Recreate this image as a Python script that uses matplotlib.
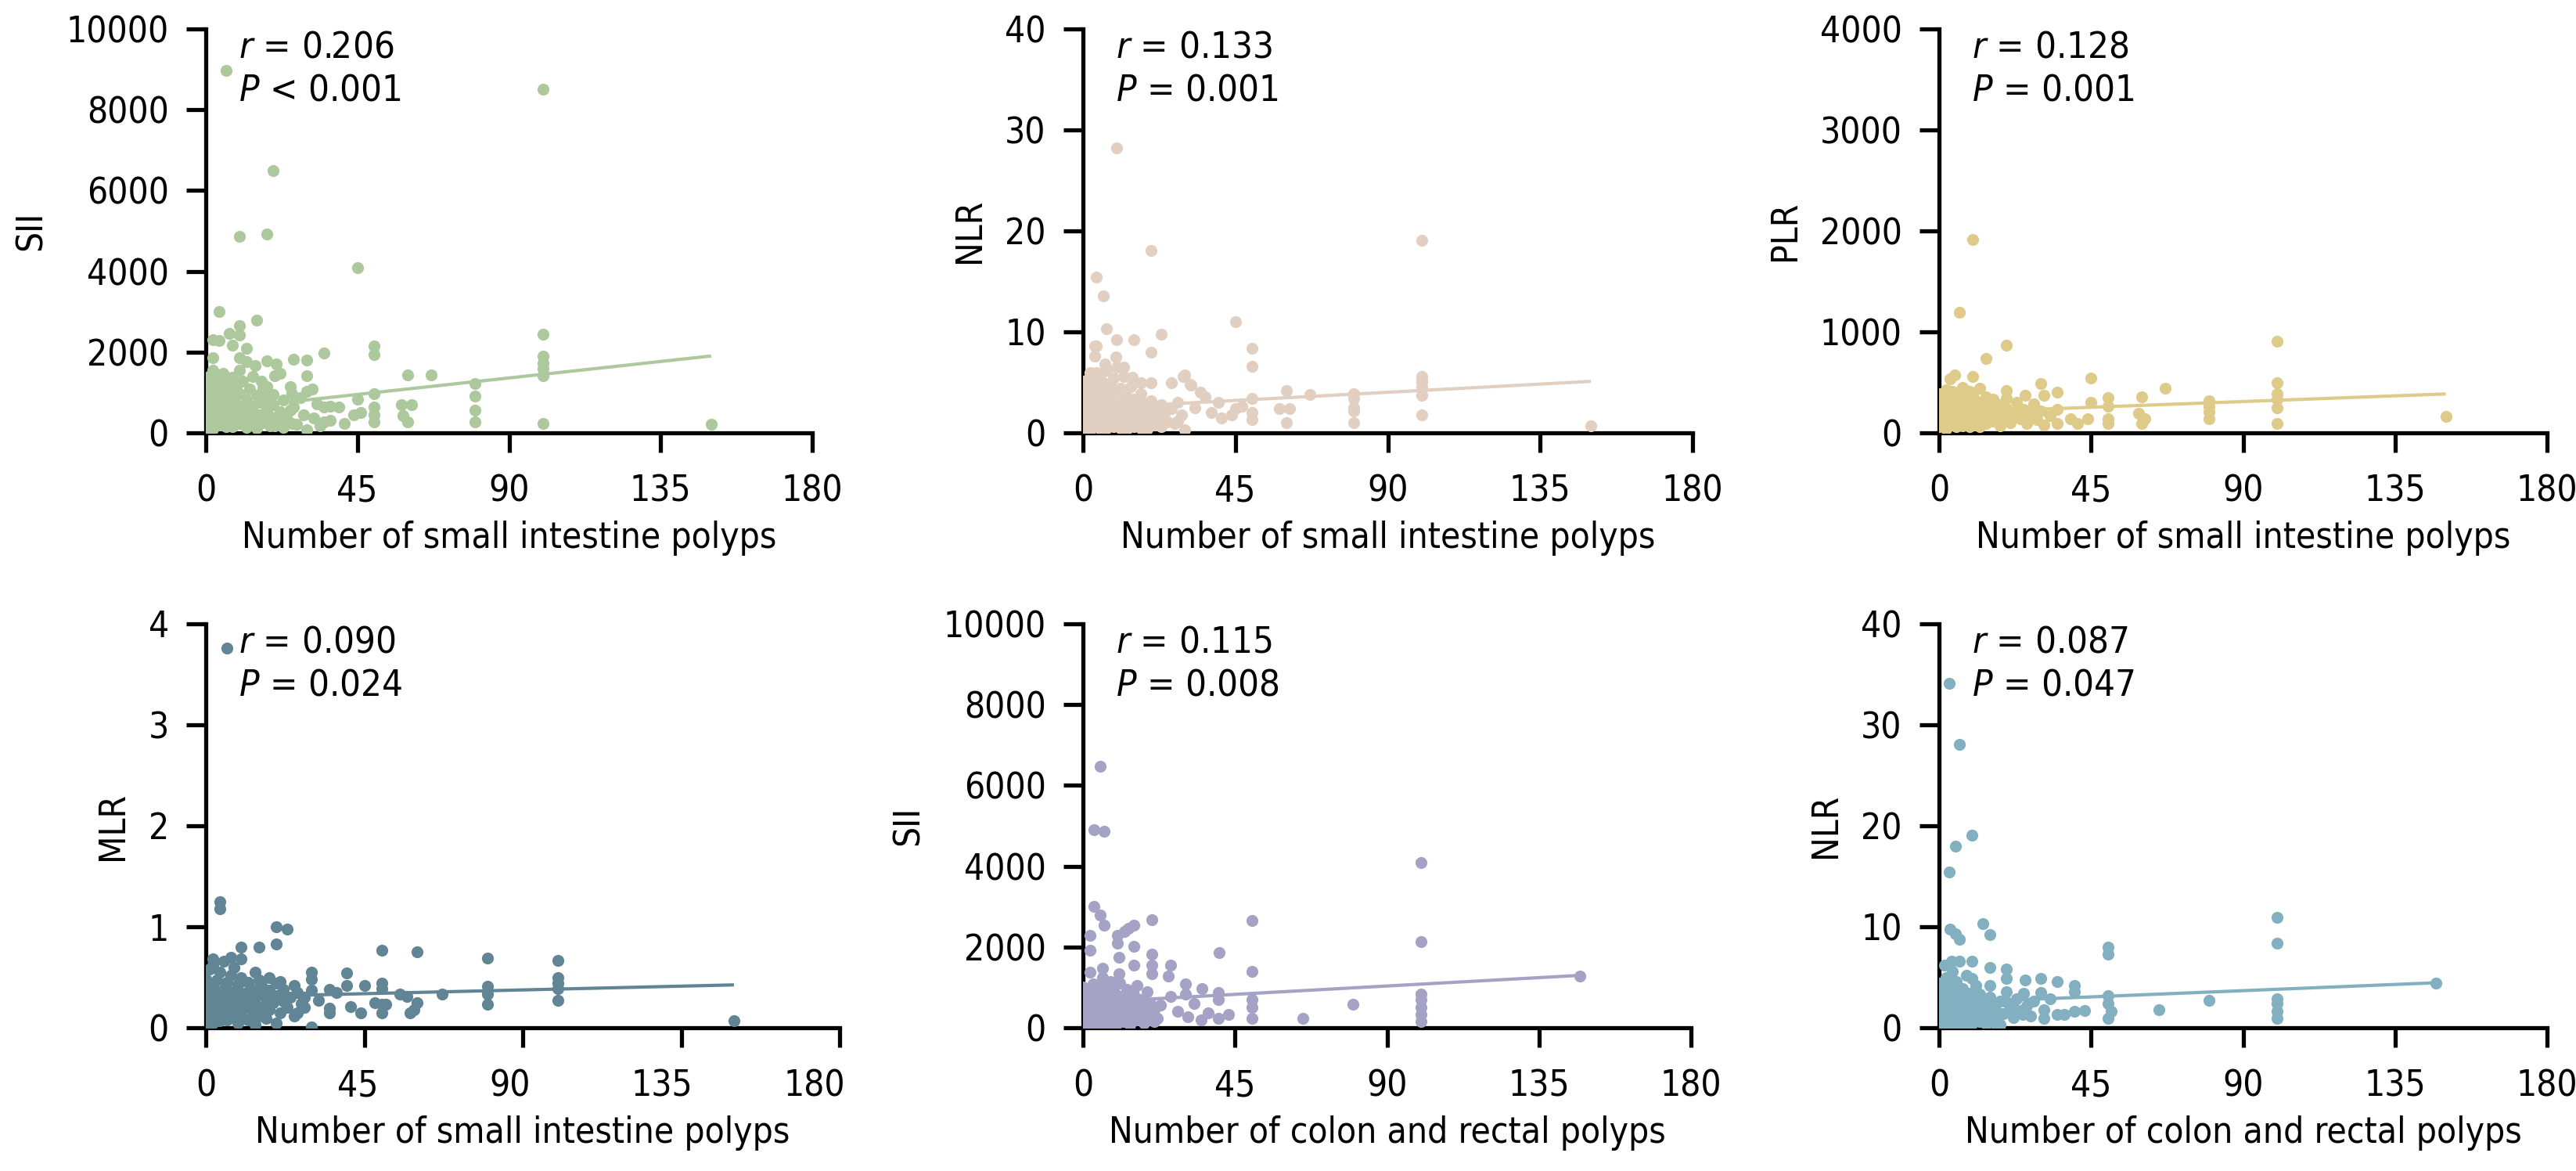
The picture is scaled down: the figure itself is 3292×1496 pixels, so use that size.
import numpy as np
import matplotlib
matplotlib.use("Agg")
import matplotlib.pyplot as plt

plt.rcParams['font.family'] = ['DejaVu Sans']
plt.rcParams['font.stretch'] = 'condensed'
plt.rcParams['mathtext.fontset'] = 'custom'
plt.rcParams['mathtext.it'] = 'DejaVu Sans:italic'
plt.rcParams['mathtext.rm'] = 'DejaVu Sans'

# ---------------- data ----------------
# Panel 1: SII vs number of small intestine polyps
si_sii_x = [6, 100, 20, 10, 18, 45, 4, 15, 10, 7, 2, 4, 10, 8, 12, 2, 10, 18, 26, 30, 35, 50, 50, 60, 67,
            80, 80, 80, 80, 100, 100, 100, 100, 100, 100, 150, 50, 50, 50, 50, 45, 44, 46, 58, 61, 58.5, 60,
            35, 37, 35, 37, 39.5, 41, 31.5, 30, 30, 25, 20.5, 22, 21, 14.7, 12, 16.6, 18, 25.6, 25, 25.6, 20.4, 22.3, 30,
            0, 0, 0, 0, 1, 1, 1, 1, 2, 2, 2, 2, 3, 3, 3, 3, 4, 4, 4, 4, 5, 5, 5, 5, 6, 6, 6, 6, 7, 7, 7, 8, 8, 8,
            9, 9, 9, 10, 10, 10, 11, 11, 11, 12, 12, 13, 13, 14, 14, 14, 15, 15, 16, 16, 17, 17, 18, 18, 19, 19,
            20, 20, 21, 22, 23, 23, 24, 26, 27, 28, 29, 32, 33, 34]
si_sii_y = [8970, 8500, 6500, 4870, 4920, 4090, 3010, 2800, 2650, 2460, 2310, 2280, 2430, 2170, 2100, 1860, 1860, 1780, 1820, 1800, 1980, 2150, 1930, 1440, 1440,
            1215, 920, 570, 280, 2450, 1900, 1720, 1580, 1410, 240, 220, 960, 630, 440, 280, 830, 440, 500, 700, 700, 420, 280,
            630, 660, 280, 310, 630, 240, 1085, 1020, 1410, 1150, 1410, 1470, 1700, 1670, 1770, 1280, 1150, 960, 570, 240, 180, 300, 80,
            120, 380, 640, 910, 1180, 1400, 260, 520, 780, 1030, 1560, 90, 410, 690, 960, 1290, 200, 560, 830, 1120, 1470, 330, 700, 1000,
            150, 480, 880, 1240, 620, 1060, 310, 160, 820, 1380, 450, 700, 1150, 240, 960, 1560, 600, 380, 1270, 130, 820, 1080, 480,
            260, 660, 1400, 930, 110, 450, 760, 250, 1100, 590, 860, 170, 400, 700, 950, 280, 520, 820, 140, 370, 640, 210, 880, 450, 360, 720, 180]

# Panel 2: NLR vs number of small intestine polyps
si_nlr_x = [10, 20, 4, 6, 7, 10, 15, 23, 20, 3.5, 4, 3.5, 45, 50, 50, 6.5, 9.6, 12, 4, 5.5, 14.6, 17, 20, 26, 29.6, 32, 34.6,
            60, 67, 58, 61, 60, 80, 80, 80, 80, 80, 100, 100, 100, 100, 100, 100, 150, 50, 50, 50, 45, 36, 38, 41, 40, 30, 31.6,
            33, 28, 30, 44, 47,
            0, 0, 0, 0, 0, 1, 1, 1, 1, 2, 2, 2, 2, 2, 3, 3, 3, 3, 4, 4, 4, 4, 5, 5, 5, 5, 6, 6, 6, 6, 7, 7, 7, 7, 7,
            8, 8, 8, 8, 9, 9, 9, 9, 10, 10, 10, 10, 11, 11, 11, 12, 12, 12, 13, 13, 13, 14, 14, 14, 15, 15, 15, 16, 16,
            17, 17, 17, 18, 18, 19, 19, 20, 20, 21, 21, 22, 23, 23, 24, 25, 26, 27, 28, 29]
si_nlr_y = [28.2, 18.1, 15.4, 13.6, 10.3, 9.2, 9.2, 9.8, 8.0, 8.6, 8.6, 7.6, 11.0, 8.4, 6.6, 6.8, 7.5, 6.5, 6.0, 6.0, 5.5, 5.0, 5.0, 5.0, 5.6, 4.7, 4.0,
            4.2, 3.8, 2.4, 2.4, 1.0, 3.9, 3.4, 2.5, 2.2, 1.0, 19.1, 5.6, 5.1, 4.6, 3.75, 1.8, 0.7, 3.4, 2.0, 1.3, 2.4, 3.6, 2.0, 1.5, 3.0, 5.7, 4.8,
            2.5, 1.2, 0.3, 1.8, 2.6,
            0.5, 1.5, 2.6, 3.8, 4.6, 1.0, 2.0, 3.2, 5.2, 0.3, 1.6, 2.8, 4.2, 6.0, 0.9, 2.2, 3.5, 4.8, 1.4, 2.6, 3.9, 5.4, 0.4, 1.9, 3.1, 4.4,
            1.0, 2.4, 3.6, 5.0, 0.5, 1.7, 2.9, 4.2, 6.2, 1.2, 2.3, 3.5, 4.7, 0.6, 1.9, 3.0, 5.4, 1.1, 2.5, 3.8, 6.5, 0.5, 1.7, 4.4,
            1.2, 2.9, 5.6, 0.4, 2.2, 3.6, 1.4, 2.7, 4.6, 0.6, 2.0, 3.3, 1.3, 2.6, 0.5, 1.8, 3.9, 1.1, 2.9, 0.4, 2.1, 1.4, 3.2, 0.8, 2.4,
            1.6, 0.6, 2.8, 1.9, 1.1, 2.4, 0.9, 3.0, 1.8]

# Panel 3: PLR vs number of small intestine polyps
si_plr_x = [10, 6, 20, 14, 100, 100, 100, 100, 100, 100, 150, 67, 60, 59, 61, 60, 80, 80, 80, 80, 45, 45, 44, 50, 50, 50, 50,
            30, 31, 35, 35, 35, 41, 39, 25.5, 20, 10, 4.7, 3.3,
            0, 0, 0, 0, 1, 1, 1, 2, 2, 2, 2, 3, 3, 3, 4, 4, 4, 5, 5, 5, 6, 6, 6, 7, 7, 7, 7, 8, 8, 8, 9, 9, 9,
            10, 10, 10, 11, 11, 12, 12, 12, 13, 13, 14, 14, 14, 15, 16, 16, 17, 18, 18, 19, 20, 20, 21, 22, 23, 24, 25,
            26, 27, 28, 29, 30, 31, 33]
si_plr_y = [1915, 1190, 870, 735, 905, 495, 385, 335, 245, 90, 160, 440, 360, 195, 140, 90, 315, 265, 210, 140, 540, 300, 140, 350, 265, 140, 90,
            490, 370, 405, 230, 90, 90, 140, 370, 420, 560, 575, 535,
            60, 170, 280, 390, 110, 230, 340, 40, 190, 300, 430, 90, 250, 370, 150, 290, 410, 60, 200, 330, 120, 250, 380, 70, 180, 300, 450,
            130, 240, 350, 60, 200, 410, 110, 280, 380, 170, 320, 60, 230, 440, 140, 300, 90, 200, 360, 260, 120, 330, 190, 70, 280, 160,
            240, 340, 100, 200, 300, 140, 230, 90, 190, 290, 130, 220, 80, 170]

# Panel 4: MLR vs number of small intestine polyps
si_mlr_x = [6, 4, 4, 20, 23, 20, 15, 10, 2, 50, 60, 80, 100, 100, 100, 100, 100, 80, 80, 80, 67, 57, 60, 58, 59, 50, 50, 50, 50,
            48, 51, 45, 44, 41, 40, 40, 35, 37, 35, 35, 30, 30, 30, 30, 14, 25, 21, 150, 55, 28, 32, 26,
            0, 0, 0, 0, 0, 1, 1, 1, 1, 2, 2, 2, 2, 2, 3, 3, 3, 3, 4, 4, 4, 4, 5, 5, 5, 5, 6, 6, 6, 6, 7, 7, 7, 7,
            8, 8, 8, 8, 9, 9, 9, 9, 10, 10, 10, 10, 11, 11, 12, 12, 12, 13, 13, 14, 14, 15, 15, 15, 16, 16, 17, 17,
            18, 18, 18, 19, 20, 20, 20, 21, 22, 22, 23, 24, 25, 26, 27, 28]
si_mlr_y = [3.76, 1.25, 1.18, 1.0, 0.98, 0.83, 0.80, 0.80, 0.68, 0.77, 0.75, 0.69, 0.67, 0.50, 0.44, 0.39, 0.27, 0.41, 0.33, 0.23, 0.33,
            0.31, 0.25, 0.15, 0.18, 0.44, 0.39, 0.23, 0.15, 0.25, 0.23, 0.42, 0.15, 0.21, 0.54, 0.42, 0.38, 0.35, 0.19, 0.15, 0.55, 0.48,
            0.37, 0.01, 0.03, 0.42, 0.46, 0.07, 0.33, 0.20, 0.27, 0.15,
            0.05, 0.15, 0.26, 0.37, 0.48, 0.10, 0.21, 0.32, 0.58, 0.05, 0.17, 0.28, 0.40, 0.62, 0.12, 0.24, 0.35, 0.47, 0.07, 0.19, 0.30,
            0.55, 0.14, 0.26, 0.38, 0.66, 0.08, 0.21, 0.33, 0.45, 0.16, 0.28, 0.52, 0.70, 0.10, 0.23, 0.36, 0.60, 0.05, 0.18, 0.30, 0.43,
            0.12, 0.25, 0.50, 0.68, 0.20, 0.34, 0.08, 0.28, 0.45, 0.16, 0.38, 0.24, 0.55, 0.12, 0.33, 0.47, 0.20, 0.40, 0.09, 0.29,
            0.18, 0.37, 0.50, 0.25, 0.05, 0.32, 0.44, 0.15, 0.26, 0.38, 0.20, 0.30, 0.12, 0.35, 0.24, 0.30]

# Panel 5: SII vs number of colon and rectal polyps
cr_sii_x = [5.2, 3.3, 6.2, 3.3, 5.2, 6.2, 2.1, 2.1, 10.2, 10.2, 12.2, 13.5, 15, 20.3, 50, 40.2, 100, 100, 100, 100, 100, 100, 100,
            147, 80, 65, 50, 50, 50, 50, 40, 40, 43, 40, 35.3, 37, 35, 30.4, 30.4, 31, 26, 25.2, 26, 20.3, 20.3, 20.3, 15, 15,
            10.6, 10.6, 5.7, 5.7, 2.1, 23, 28, 33, 22,
            0, 0, 0, 0, 0, 1, 1, 1, 1, 2, 2, 2, 2, 3, 3, 3, 3, 4, 4, 4, 4, 5, 5, 5, 5, 6, 6, 6, 7, 7, 7, 8, 8, 8, 8,
            9, 9, 9, 10, 10, 10, 11, 11, 12, 12, 12, 13, 13, 14, 14, 15, 15, 16, 16, 17, 17, 18, 18, 19, 19, 20, 21, 21]
cr_sii_y = [6475, 4910, 4860, 3010, 2790, 2540, 2290, 1920, 2290, 2100, 2380, 2470, 2530, 2680, 2650, 1860, 4080, 2130, 830, 690, 510, 330, 150,
            1285, 580, 240, 1400, 690, 510, 240, 870, 690, 330, 240, 965, 370, 190, 1085, 830, 280, 1560, 1285, 780, 1830, 1560, 1330, 2010, 1560,
            1740, 1330, 1470, 1240, 1375, 560, 400, 600, 240,
            80, 300, 520, 760, 1000, 180, 420, 650, 900, 60, 300, 560, 820, 190, 440, 700, 1080, 90, 330, 600, 880, 220, 470, 750, 1020,
            120, 380, 640, 260, 520, 900, 60, 350, 1150, 700, 200, 460, 980, 100, 580, 820, 320, 1100, 160, 700, 450, 950, 250, 560, 80,
            380, 820, 200, 1050, 520, 700, 120, 400, 900, 260, 600, 150, 450]

# Panel 6: NLR vs number of colon and rectal polyps
cr_nlr_x = [3.1, 6, 9.8, 4.9, 2.9, 3.3, 4.9, 6, 13, 15, 100, 100, 100, 100, 100, 100, 147, 80, 65, 50, 50, 50, 50, 51, 50,
            40, 40, 43, 40, 37, 35, 35, 30, 30, 31, 31, 25.5, 25, 24.7, 20, 20, 20, 20, 15, 15, 9.8, 9.8, 6, 3.6, 1.6, 17, 28, 22, 33,
            0, 0, 0, 0, 0, 1, 1, 1, 1, 2, 2, 2, 2, 2, 3, 3, 3, 3, 4, 4, 4, 4, 5, 5, 5, 5, 6, 6, 6, 7, 7, 7, 8, 8, 8, 8,
            9, 9, 9, 10, 10, 10, 11, 11, 12, 12, 12, 13, 13, 14, 14, 15, 15, 16, 17, 17, 18, 18, 19, 21, 22, 23, 24, 26, 27]
cr_nlr_y = [34.1, 28.1, 19.1, 18.0, 15.4, 9.8, 9.3, 8.75, 10.3, 9.2, 10.9, 8.4, 2.9, 2.4, 1.6, 0.9, 4.4, 2.7, 1.8, 8.0, 7.3, 3.2, 2.4, 1.6, 0.9,
            4.2, 3.6, 1.7, 1.6, 1.3, 4.6, 1.3, 4.85, 3.5, 1.8, 0.9, 4.7, 3.4, 1.3, 5.8, 4.9, 3.6, 2.55, 6.0, 4.2, 6.6, 4.9, 6.6, 6.6, 6.2, 0.2, 2.6, 2.0, 2.9,
            0.3, 1.2, 2.2, 3.3, 4.4, 0.7, 1.8, 2.8, 3.9, 0.2, 1.3, 2.4, 3.5, 5.0, 0.8, 1.9, 3.0, 4.2, 0.4, 1.5, 2.6, 5.6, 1.0, 2.1, 3.4, 4.6,
            0.5, 1.7, 2.9, 1.2, 2.3, 3.9, 0.4, 1.6, 2.7, 5.2, 1.0, 2.1, 3.4, 0.5, 1.6, 2.9, 1.1, 4.2, 0.6, 2.2, 3.3, 1.4, 2.7, 0.4, 1.9,
            1.1, 3.0, 2.2, 0.8, 1.6, 2.6, 0.3, 1.4, 2.0, 1.0, 2.9, 1.7, 2.2, 1.2]

# Fitted regression lines: (intercept, slope)
fit_si_sii = (543, 9.07)
fit_si_nlr = (2.4, 0.018)
fit_si_plr = (197, 1.257)
fit_si_mlr = (0.30, 0.00083)
fit_cr_sii = (620, 4.6)
fit_cr_nlr = (2.44, 0.0137)

x_ticks = [0, 45, 90, 135, 180]
xlabels = ["Number of small intestine polyps", "Number of small intestine polyps", "Number of small intestine polyps",
           "Number of small intestine polyps", "Number of colon and rectal polyps", "Number of colon and rectal polyps"]
ylabels = ["SII", "NLR", "PLR", "MLR", "SII", "NLR"]
y_ticks = [[0, 2000, 4000, 6000, 8000, 10000], [0, 10, 20, 30, 40], [0, 1000, 2000, 3000, 4000],
           [0, 1, 2, 3, 4], [0, 2000, 4000, 6000, 8000, 10000], [0, 10, 20, 30, 40]]
r_texts = ["0.206", "0.133", "0.128", "0.090", "0.115", "0.087"]
p_texts = ["< 0.001", "= 0.001", "= 0.001", "= 0.024", "= 0.008", "= 0.047"]
colors = ["#adc89d", "#e1cfc1", "#dfcb89", "#618595", "#a4a3c5", "#83b0c1"]

panels_x = [si_sii_x, si_nlr_x, si_plr_x, si_mlr_x, cr_sii_x, cr_nlr_x]
panels_y = [si_sii_y, si_nlr_y, si_plr_y, si_mlr_y, cr_sii_y, cr_nlr_y]
fits = [fit_si_sii, fit_si_nlr, fit_si_plr, fit_si_mlr, fit_cr_sii, fit_cr_nlr]

# ---------------- layout ----------------
W, H, DPI = 3292, 1496, 200
fig = plt.figure(figsize=(W / DPI, H / DPI), dpi=DPI)

def px_rect(x0, x1, ytop, ybot):
    return [x0 / W, 1 - ybot / H, (x1 - x0) / W, (ybot - ytop) / H]

rects = [px_rect(263, 1038, 37, 553), px_rect(1384, 2163, 37, 553), px_rect(2478, 3255, 37, 553),
         px_rect(263, 1073, 797, 1313), px_rect(1384, 2161, 797, 1313), px_rect(2478, 3255, 797, 1313)]
# bottom-left panel: tick labels drawn narrower than the stretched axis
label_shrink = [1.0, 1.0, 1.0, 0.96, 1.0, 1.0]

FS = 16.5
for i in range(6):
    ax = fig.add_axes(rects[i])
    xs = np.array(panels_x[i], dtype=float)
    ys = np.array(panels_y[i], dtype=float)
    ax.scatter(xs, ys, s=30, color=colors[i], linewidths=0, zorder=3)
    b0, b1 = fits[i]
    lx = np.array([0, xs.max()])
    ax.plot(lx, b0 + b1 * lx, color=colors[i], lw=1.5, zorder=2, solid_capstyle='butt')
    ax.set_xlim(0, 180)
    ax.set_ylim(0, y_ticks[i][-1])
    for s in ['top', 'right']:
        ax.spines[s].set_visible(False)
    for s in ['left', 'bottom']:
        ax.spines[s].set_linewidth(1.9)
    ax.set_yticks(y_ticks[i])
    ax.set_yticklabels([str(v) for v in y_ticks[i]])
    ax.tick_params(axis='both', which='major', length=9, width=1.9, direction='out', labelsize=FS)
    ax.tick_params(axis='y', pad=8)
    if label_shrink[i] == 1.0:
        ax.set_xticks(x_ticks)
        ax.set_xticklabels([str(v) for v in x_ticks])
        ax.tick_params(axis='x', pad=10)
    else:
        ax.xaxis.remove_overlapping_locs = False
        ax.set_xticks(x_ticks)
        ax.set_xticklabels([''] * len(x_ticks))
        ax.set_xticks([v * label_shrink[i] for v in x_ticks], minor=True)
        ax.set_xticklabels([str(v) for v in x_ticks], minor=True)
        ax.tick_params(axis='x', which='minor', length=0, pad=10 + 9, labelsize=FS)
    ax.set_xlabel(xlabels[i], fontsize=FS, labelpad=5)
    ax.set_ylabel(ylabels[i], fontsize=FS, labelpad=8)
    ax.annotate("$r$ = " + r_texts[i], xy=(0, 1), xycoords='axes fraction', xytext=(15, -13.2),
                textcoords='offset points', ha='left', va='baseline', fontsize=FS + 0.5)
    ax.annotate("$P$ " + p_texts[i], xy=(0, 1), xycoords='axes fraction', xytext=(15, -33),
                textcoords='offset points', ha='left', va='baseline', fontsize=FS + 0.5)

fig.savefig("out.png", dpi=DPI)
